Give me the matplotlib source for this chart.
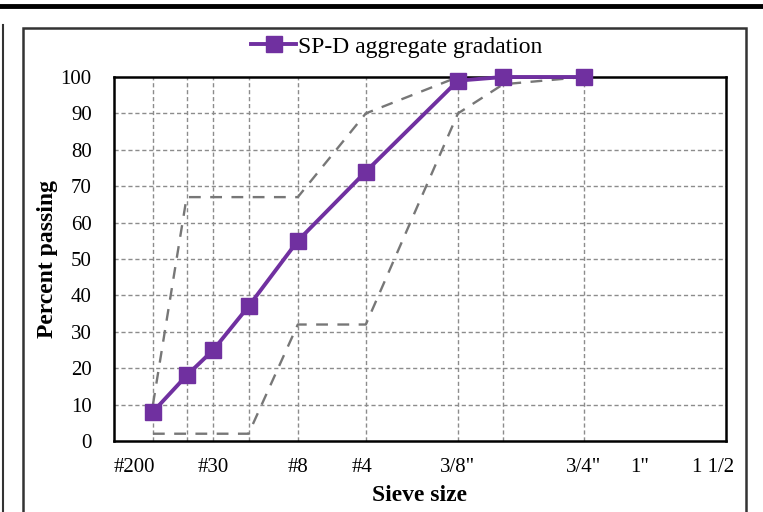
import matplotlib
matplotlib.use("Agg")
import matplotlib.pyplot as plt
from matplotlib.lines import Line2D
from matplotlib.patches import Rectangle

plt.rcParams['font.family'] = ['Liberation Serif', 'DejaVu Serif']

# sieve openings (mm) and gradation data
sieve_mm = [0.075, 0.3, 0.6, 1.18, 2.36, 4.75, 9.5, 12.5, 19]
sp_d = [8, 18, 25, 37, 55, 74, 99, 100, 100]
lower_limit = [2, 2, 2, 2, 32, 32, 90, 98, 100]
upper_limit = [10, 67, 67, 67, 67, 90, 100, 100, 100]

# x-axis labels (label text and where it sits, in mm^0.45 units)
tick_labels = ['#200', '#30', '#8', '#4', '3/8"', '3/4"', '1"', '1 1/2']
tick_pos = [0.16, 0.795, 1.472, 1.99, 2.754, 3.762, 4.21, 4.8]

power = 0.45
x = [d ** power for d in sieve_mm]

fig = plt.figure(figsize=(7.63, 5.12), dpi=100)
ax = fig.add_axes([114 / 763, 1 - 441 / 512, (726 - 114) / 763, (441 - 77) / 512])

grid_kw = dict(color='#8c8c8c', lw=1.0, ls=(0, (3, 2)), zorder=1)
for v in range(10, 100, 10):
    ax.axhline(v, **grid_kw)
for xv in x:
    ax.axvline(xv, **grid_kw)

ax.plot(x, lower_limit, color='#777777', lw=1.7, ls=(0, (5, 4)), zorder=2)
ax.plot(x, upper_limit, color='#777777', lw=1.7, ls=(0, (5, 4)), zorder=2)
ax.plot(x, sp_d, color='#7030A0', lw=2.8, marker='s', markersize=11,
        markerfacecolor='#7030A0', markeredgecolor='#7030A0', zorder=3,
        clip_on=False, label='SP-D aggregate gradation')

ax.set_xlim(0, 4.9)
ax.set_ylim(0, 100)
ax.set_yticks(range(0, 101, 10))
ax.set_xticks(tick_pos)
ax.set_xticklabels(tick_labels)
ax.tick_params(axis='both', length=0, labelsize=15)
ax.tick_params(axis='x', pad=12)
ax.tick_params(axis='y', pad=16)
for s in ax.spines.values():
    s.set_linewidth(1.8)
    s.set_color('black')

ax.set_xlabel('Sieve size', fontsize=17, fontweight='bold', labelpad=6)
ax.set_ylabel('Percent passing', fontsize=17, fontweight='bold', labelpad=2)

handle = Line2D([], [], color='#7030A0', lw=2.8, marker='s', markersize=11)
fig.legend([handle], ['SP-D aggregate gradation'], loc='center',
           bbox_to_anchor=(397 / 763, 1 - 47 / 512), frameon=False, fontsize=17,
           handlelength=1.9, handletextpad=0.1)

# surrounding frame lines of the figure panel
fig.add_artist(Line2D([0, 1], [1 - 5.5 / 512, 1 - 5.5 / 512], color='black', lw=3.5,
                      transform=fig.transFigure))
fig.add_artist(Line2D([3 / 763, 3 / 763], [0, 1 - 25 / 512], color='#333333', lw=1.5,
                      transform=fig.transFigure))
fig.add_artist(Rectangle((23 / 763, -0.05), (746 - 23) / 763, 1.05 - 28 / 512,
                         fill=False, edgecolor='#333333', lw=1.8,
                         transform=fig.transFigure))

fig.savefig('out.png', dpi=100)
